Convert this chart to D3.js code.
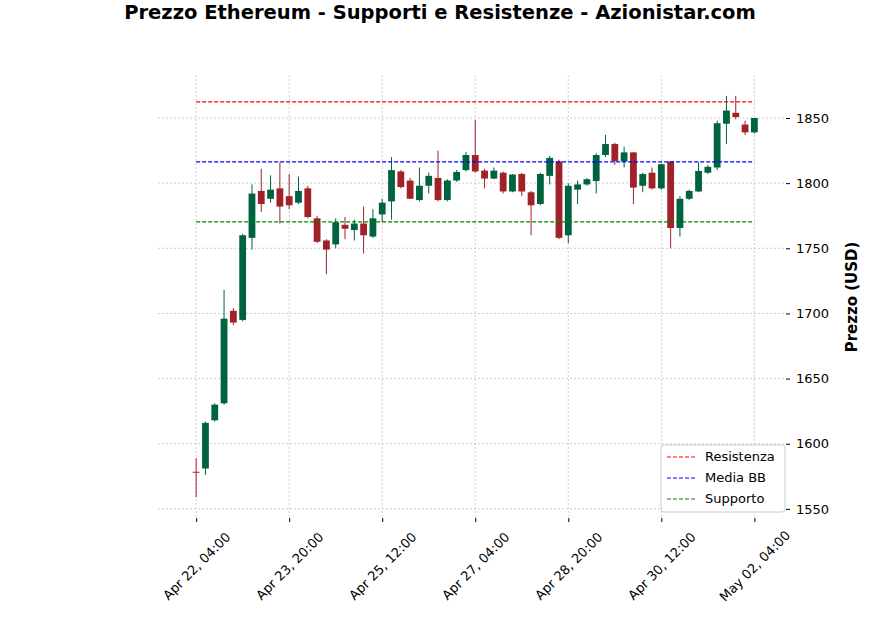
<!DOCTYPE html>
<html><head><meta charset="utf-8">
<script src="https://cdn.jsdelivr.net/npm/d3@7"></script>
<style>body{margin:0;background:#fff;font-family:"DejaVu Sans",sans-serif}</style>
</head><body><div id="chart"></div>
<script>
// candles every 4 hours starting Apr 22, 04:00
var opens  = [1578.5,1581,1618,1631,1702,1695,1758,1794,1788,1796,1790,1785,1796,1773,1756,1753,1768,1764,1769,1759,1776,
  1786,1809,1802,1787,1798,1804,1787,1802,1810,1821.6,1809.6,1803.5,1808,1793.6,1807,1793,1784,1805.6,1816.6,1760,
  1795,1799,1801.6,1821.6,1830,1816.6,1823.6,1798,1808,1796,1816.6,1765.6,1788,1793.6,1808,1812,1845.6,1854,1845,1839];
var closes = [1578,1616,1630,1696,1693,1760,1792,1784,1795,1782,1783,1794,1774,1755,1749,1770,1765,1769,1760,1773,1785,
  1810,1797,1788,1798,1805.6,1787,1802,1808.6,1821.6,1809,1803.5,1809.6,1793.6,1806.6,1793.6,1783,1807,1819.4,1758,1798,
  1799,1803,1821.6,1830,1817,1823.6,1796.6,1807,1796,1814.5,1765.6,1788,1794,1809.4,1812.5,1846,1855.7,1850.7,1839,1850];
var highs  = [1589,1617,1631,1718,1704,1761,1799,1811,1806,1816,1807,1805,1798,1775,1757,1773,1774,1772,1782,1780,1788,
  1820,1810,1804,1812,1808,1825,1803,1810,1824,1848.5,1811,1812,1809,1807,1808,1794,1808,1821,1818,1800,
  1802,1804,1823,1837,1831,1828,1824,1808,1812,1815,1817,1790,1795,1816,1814,1848,1867,1867,1848,1850];
var lows   = [1559,1576,1617,1630,1691,1694,1749,1778,1785,1769,1780,1784,1773,1754,1730,1750,1757,1756,1746,1758,1770,
  1772,1796,1788,1786,1792,1786,1786,1801,1809,1808,1796,1803,1792,1793,1790,1760,1783,1799,1757,1754,
  1784,1798,1792,1820,1814,1812,1784,1793,1795,1795,1750,1759,1787,1793,1807,1810,1830,1849,1837,1838];
var levelNames  = ["Resistenza","Media BB","Supporto"];
var levelValues = [1862.4,1816.3,1770.3];
var levelColors = ["red","blue","green"];
var tickIdx = [0,10,20,30,40,50,60];
var tickLabels = ["Apr 22, 04:00","Apr 23, 20:00","Apr 25, 12:00","Apr 27, 04:00","Apr 28, 20:00","Apr 30, 12:00","May 02, 04:00"];
var yTicks = [1550,1600,1650,1700,1750,1800,1850];

var W = 880, H = 632;
var svg = d3.select("#chart").append("svg").attr("width", W).attr("height", H);
var x = d3.scaleLinear().domain([-4.1, 63.4]).range([158, 786]);
var y = d3.scaleLinear().domain([1543, 1883]).range([518, 75]);

svg.append("text").attr("x", 440).attr("y", 19).attr("text-anchor", "middle")
  .attr("font-size", 19.5).attr("font-weight", "bold").text("Prezzo Ethereum - Supporti e Resistenze - Azionistar.com");

// grid
svg.selectAll(".gx").data(tickIdx).enter().append("line")
  .attr("x1", d => x(d)).attr("x2", d => x(d)).attr("y1", 75).attr("y2", 518)
  .attr("stroke", "#b0b0b0").attr("stroke-width", 0.6).attr("stroke-dasharray", "2,2");
svg.selectAll(".gy").data(yTicks).enter().append("line")
  .attr("x1", 158).attr("x2", 786).attr("y1", d => y(d)).attr("y2", d => y(d))
  .attr("stroke", "#b0b0b0").attr("stroke-width", 0.6).attr("stroke-dasharray", "2,2");

// axes
var yAxis = d3.axisRight(y).tickValues(yTicks).tickFormat(d3.format("d")).tickSize(4).tickPadding(6);
var gy = svg.append("g").attr("transform", "translate(786,0)").call(yAxis);
gy.select(".domain").remove();
gy.selectAll("text").attr("font-size", 13).attr("font-family", "DejaVu Sans");
var xAxis = d3.axisBottom(x).tickValues(tickIdx).tickFormat((d, i) => tickLabels[i]).tickSize(4);
var gx = svg.append("g").attr("transform", "translate(0,518)").call(xAxis);
gx.select(".domain").remove();
gx.selectAll("text").attr("font-size", 13).attr("font-family", "DejaVu Sans")
  .attr("text-anchor", "middle").attr("y", 0).attr("dy", "0.35em")
  .attr("transform", "translate(0,48) rotate(-45)");

svg.append("text").attr("transform", "translate(857,297) rotate(-90)").attr("text-anchor", "middle")
  .attr("font-size", 15).attr("font-weight", "bold").text("Prezzo (USD)");

// candles
var data = opens.map((o, i) => ({i: i, o: o, c: closes[i], h: highs[i], l: lows[i]}));
var col = d => d.c >= d.o ? "#006340" : "#a02128";
svg.selectAll(".wick").data(data).enter().append("line")
  .attr("x1", d => x(d.i)).attr("x2", d => x(d.i)).attr("y1", d => y(d.h)).attr("y2", d => y(d.l))
  .attr("stroke", col).attr("stroke-width", 1);
svg.selectAll(".body").data(data).enter().append("rect")
  .attr("x", d => x(d.i) - 3.4).attr("width", 6.8)
  .attr("y", d => y(Math.max(d.o, d.c))).attr("height", d => Math.max(1, Math.abs(y(d.o) - y(d.c))))
  .attr("fill", col);

// levels
svg.selectAll(".lvl").data(levelValues).enter().append("line")
  .attr("x1", x(0)).attr("x2", x(60)).attr("y1", d => y(d)).attr("y2", d => y(d))
  .attr("stroke", (d, i) => levelColors[i]).attr("stroke-width", 1.2).attr("stroke-dasharray", "4,2");

// legend
var lg = svg.append("g").attr("transform", "translate(661,445)");
lg.append("rect").attr("width", 124).attr("height", 67).attr("rx", 3)
  .attr("fill", "#fff").attr("fill-opacity", 0.8).attr("stroke", "#ccc");
levelNames.forEach((n, i) => {
  lg.append("line").attr("x1", 6).attr("x2", 34).attr("y1", 12 + i * 21).attr("y2", 12 + i * 21)
    .attr("stroke", levelColors[i]).attr("stroke-width", 1.2).attr("stroke-dasharray", "4,2");
  lg.append("text").attr("x", 44).attr("y", 16 + i * 21).attr("font-size", 13).text(n);
});
</script></body></html>
